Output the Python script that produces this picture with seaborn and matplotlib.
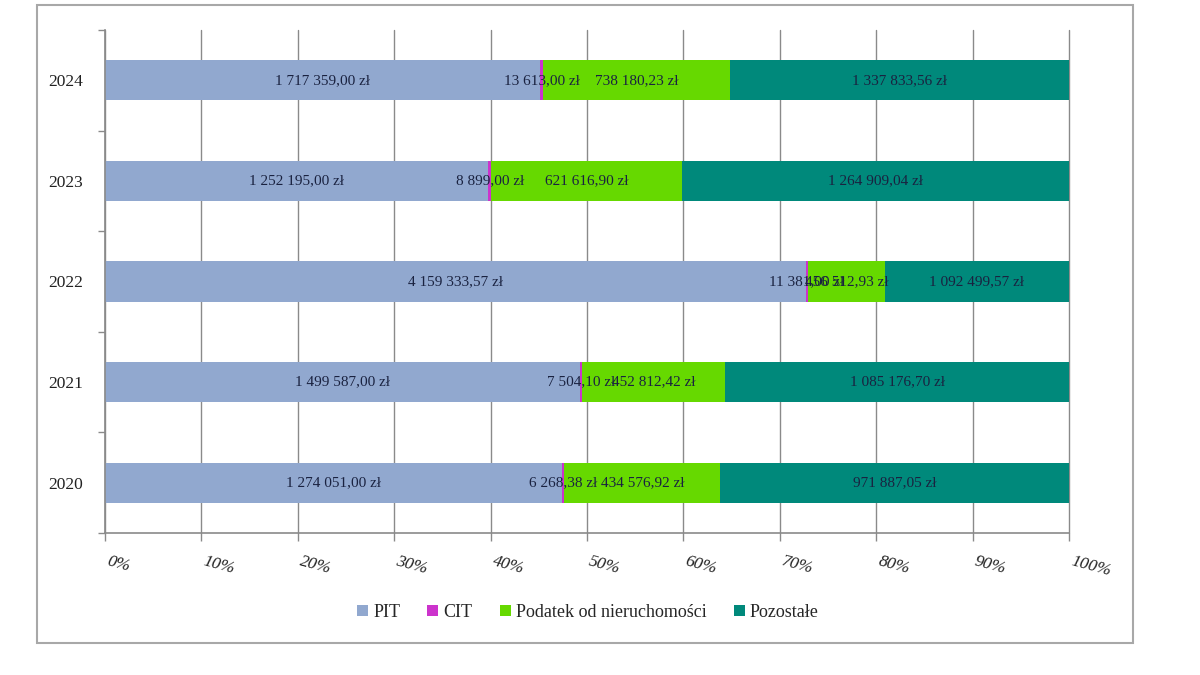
"""Struktura dochodów podatkowych gminy 2020-2024 (udział procentowy)."""

import matplotlib

matplotlib.use("Agg")

import matplotlib.pyplot as plt
import matplotlib.ticker as mticker
import numpy as np
import pandas as pd
import seaborn as sns
from matplotlib.patches import Patch, Rectangle

years = ["2024", "2023", "2022", "2021", "2020"]
categories = ["PIT", "CIT", "Podatek od nieruchomości", "Pozostałe"]
pit = [1717359.00, 1252195.00, 4159333.57, 1499587.00, 1274051.00]
cit = [13613.00, 8899.00, 11381.00, 7504.10, 6268.38]
podatek_nier = [738180.23, 621616.90, 456512.93, 452812.42, 434576.92]
pozostale = [1337833.56, 1264909.04, 1092499.57, 1085176.70, 971887.05]
x_ticks = list(range(0, 101, 10))

colors = ["#91A8CF", "#CC33CC", "#66D900", "#00897B"]
text_color = "#1A2240"


def fmt_zl(v: float) -> str:
    whole, frac = f"{v:,.2f}".split(".")
    return f"{whole.replace(',', ' ')},{frac} zł"


values = np.array([pit, cit, podatek_nier, pozostale])
shares = values / values.sum(axis=0) * 100
cum = shares.cumsum(axis=0)

sns.set_theme(style="white")
plt.rcParams["font.family"] = ["Liberation Serif", "DejaVu Serif"]

fig = plt.figure(figsize=(12, 6.75), dpi=100)
ax = fig.add_axes([0.0875, 0.2104, 0.8033, 0.7452])

# vertical gridlines behind bars
for t in x_ticks:
    ax.axvline(t, color="#8A8A8A", linewidth=1.0, zorder=0, clip_on=False)

# stacked bars: draw cumulative totals from the longest to the shortest
for i in range(len(categories) - 1, -1, -1):
    df = pd.DataFrame({"year": years, "cum": cum[i]})
    sns.barplot(
        data=df,
        x="cum",
        y="year",
        order=years,
        orient="h",
        color=colors[i],
        saturation=1,
        width=0.4,
        linewidth=0,
        ax=ax,
        zorder=2,
    )

for i in range(len(categories)):
    for j, year in enumerate(years):
        start = cum[i][j] - shares[i][j]
        ax.text(
            start + shares[i][j] / 2,
            j,
            fmt_zl(values[i][j]),
            ha="center",
            va="center",
            fontsize=11,
            color=text_color,
            zorder=4,
        )

ax.set_xlim(0, 100)
ax.set_ylim(4.5, -0.5)
ax.set_xlabel("")
ax.set_ylabel("")
ax.xaxis.set_major_locator(mticker.FixedLocator(x_ticks))
ax.set_xticklabels([f"{t}%" for t in x_ticks], rotation=-15, fontstyle="italic",
                   fontsize=12.5, color="#222222", ha="left")
ax.tick_params(axis="x", direction="out", length=6, width=1, color="#8A8A8A",
               pad=9, bottom=True)
ax.yaxis.set_minor_locator(mticker.FixedLocator(np.arange(-0.5, 5, 1)))
ax.tick_params(axis="y", which="major", length=0, pad=16, labelsize=12.5,
               labelcolor="#222222")
ax.tick_params(axis="y", which="minor", direction="out", length=5, width=1,
               color="#8A8A8A", left=True)

for side in ["top", "right"]:
    ax.spines[side].set_visible(False)
for side in ["left", "bottom"]:
    ax.spines[side].set_color("#8A8A8A")
    ax.spines[side].set_linewidth(1.2)

handles = [Patch(facecolor=c, edgecolor="none") for c in colors]
fig.legend(
    handles,
    categories,
    loc="center",
    bbox_to_anchor=(0.49, 0.093),
    ncol=4,
    frameon=False,
    fontsize=13,
    handlelength=0.6,
    handleheight=0.6,
    handletextpad=0.3,
    columnspacing=1.5,
)

fig.patches.append(
    Rectangle((37 / 1200, 1 - 643 / 675), 1096 / 1200, 638 / 675,
              transform=fig.transFigure, fill=False, edgecolor="#A8A8A8",
              linewidth=1.5)
)

fig.savefig("out.png", dpi=100)
plt.close(fig)
